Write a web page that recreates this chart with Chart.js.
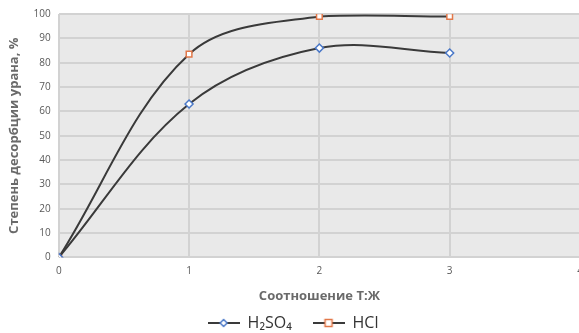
<!DOCTYPE html>
<html>
<head>
<meta charset="utf-8">
<script src="https://cdn.jsdelivr.net/npm/chart.js@4/dist/chart.umd.min.js"></script>
<style>
  html, body { margin: 0; padding: 0; background: #fff; overflow: hidden; }
  #wrap { width: 600px; height: 341px; position: relative; }
</style>
</head>
<body>
<div id="wrap"><canvas id="chart"></canvas></div>
<script>
// --- data ---
const ratios = [0, 1, 2, 3];
const h2so4 = [0, 63, 86, 84];
const hcl = [0, 83.5, 99, 99];
const seriesNames = ['H₂SO₄', 'HCl'];

const lineColor = '#3a3a3a';
const blue = '#4a78c8';
const orange = '#e2784a';

// small legend icons: dark line with coloured marker
function legendIcon(kind, color) {
    const c = document.createElement('canvas');
    c.width = 32; c.height = 12;
    const g = c.getContext('2d');
    g.strokeStyle = lineColor;
    g.lineWidth = 2;
    g.beginPath(); g.moveTo(0, 6); g.lineTo(32, 6); g.stroke();
    g.fillStyle = '#fff';
    g.strokeStyle = color;
    g.lineWidth = 1.5;
    g.beginPath();
    if (kind === 'diamond') {
        g.moveTo(16, 2.5); g.lineTo(19.5, 6); g.lineTo(16, 9.5); g.lineTo(12.5, 6); g.closePath();
    } else {
        g.rect(12.5, 2.5, 7, 7);
    }
    g.fill(); g.stroke();
    return c;
}
const icons = [legendIcon('diamond', blue), legendIcon('square', orange)];

const plotBg = {
    id: 'plotBg',
    beforeDraw(chart) {
        const a = chart.chartArea, ctx = chart.ctx;
        ctx.save();
        ctx.fillStyle = '#e9e9e9';
        ctx.fillRect(a.left, a.top, a.right - a.left, a.bottom - a.top);
        ctx.restore();
    }
};

new Chart(document.getElementById('chart'), {
    type: 'line',
    data: {
        datasets: [
            {
                label: seriesNames[0],
                data: ratios.map((x, i) => ({ x: x, y: h2so4[i] })),
                borderColor: lineColor,
                borderWidth: 2,
                tension: 0.35,
                pointStyle: 'rectRot',
                pointRadius: 4,
                pointBorderWidth: 1.5,
                pointBackgroundColor: '#fff',
                pointBorderColor: blue
            },
            {
                label: seriesNames[1],
                data: ratios.map((x, i) => ({ x: x, y: hcl[i] })),
                borderColor: lineColor,
                borderWidth: 2,
                tension: 0.35,
                pointStyle: 'rect',
                pointRadius: 4,
                pointBorderWidth: 1.5,
                pointBackgroundColor: '#fff',
                pointBorderColor: orange
            }
        ]
    },
    options: {
        responsive: true,
        maintainAspectRatio: false,
        animation: false,
        layout: { padding: { top: 8, right: 20, left: 6, bottom: 0 } },
        scales: {
            x: {
                type: 'linear',
                min: 0, max: 4,
                ticks: { stepSize: 1, color: '#595959', font: { family: 'Open Sans', size: 10 }, padding: 8 },
                grid: { color: '#d2d2d2', lineWidth: 2, drawTicks: false },
                border: { display: false },
                title: {
                    display: true,
                    text: 'Соотношение Т:Ж',
                    color: '#6a6a6a',
                    font: { family: 'Open Sans', size: 13, weight: 'bold' },
                    padding: { top: 3, bottom: 11 }
                }
            },
            y: {
                min: 0, max: 100,
                ticks: { stepSize: 10, color: '#595959', font: { family: 'Open Sans', size: 10 }, padding: 8 },
                grid: { color: '#d2d2d2', lineWidth: 2, drawTicks: false },
                border: { display: false },
                title: {
                    display: true,
                    text: 'Степень десорбции урана, %',
                    color: '#6a6a6a',
                    font: { family: 'Open Sans', size: 13, weight: 'bold' },
                    padding: { top: 0, bottom: 4 }
                }
            }
        },
        plugins: {
            legend: {
                position: 'bottom',
                labels: {
                    usePointStyle: true,
                    pointStyleWidth: 32,
                    color: '#333',
                    font: { family: 'Open Sans', size: 16 },
                    padding: 0,
                    generateLabels(chart) {
                        return chart.data.datasets.map((ds, i) => ({
                            text: i === 0 ? ds.label + '     ' : ds.label,
                            pointStyle: icons[i],
                            fontColor: '#333',
                            datasetIndex: i,
                            hidden: false
                        }));
                    }
                }
            },
            tooltip: { enabled: false }
        }
    },
    plugins: [plotBg]
});
</script>
</body>
</html>
